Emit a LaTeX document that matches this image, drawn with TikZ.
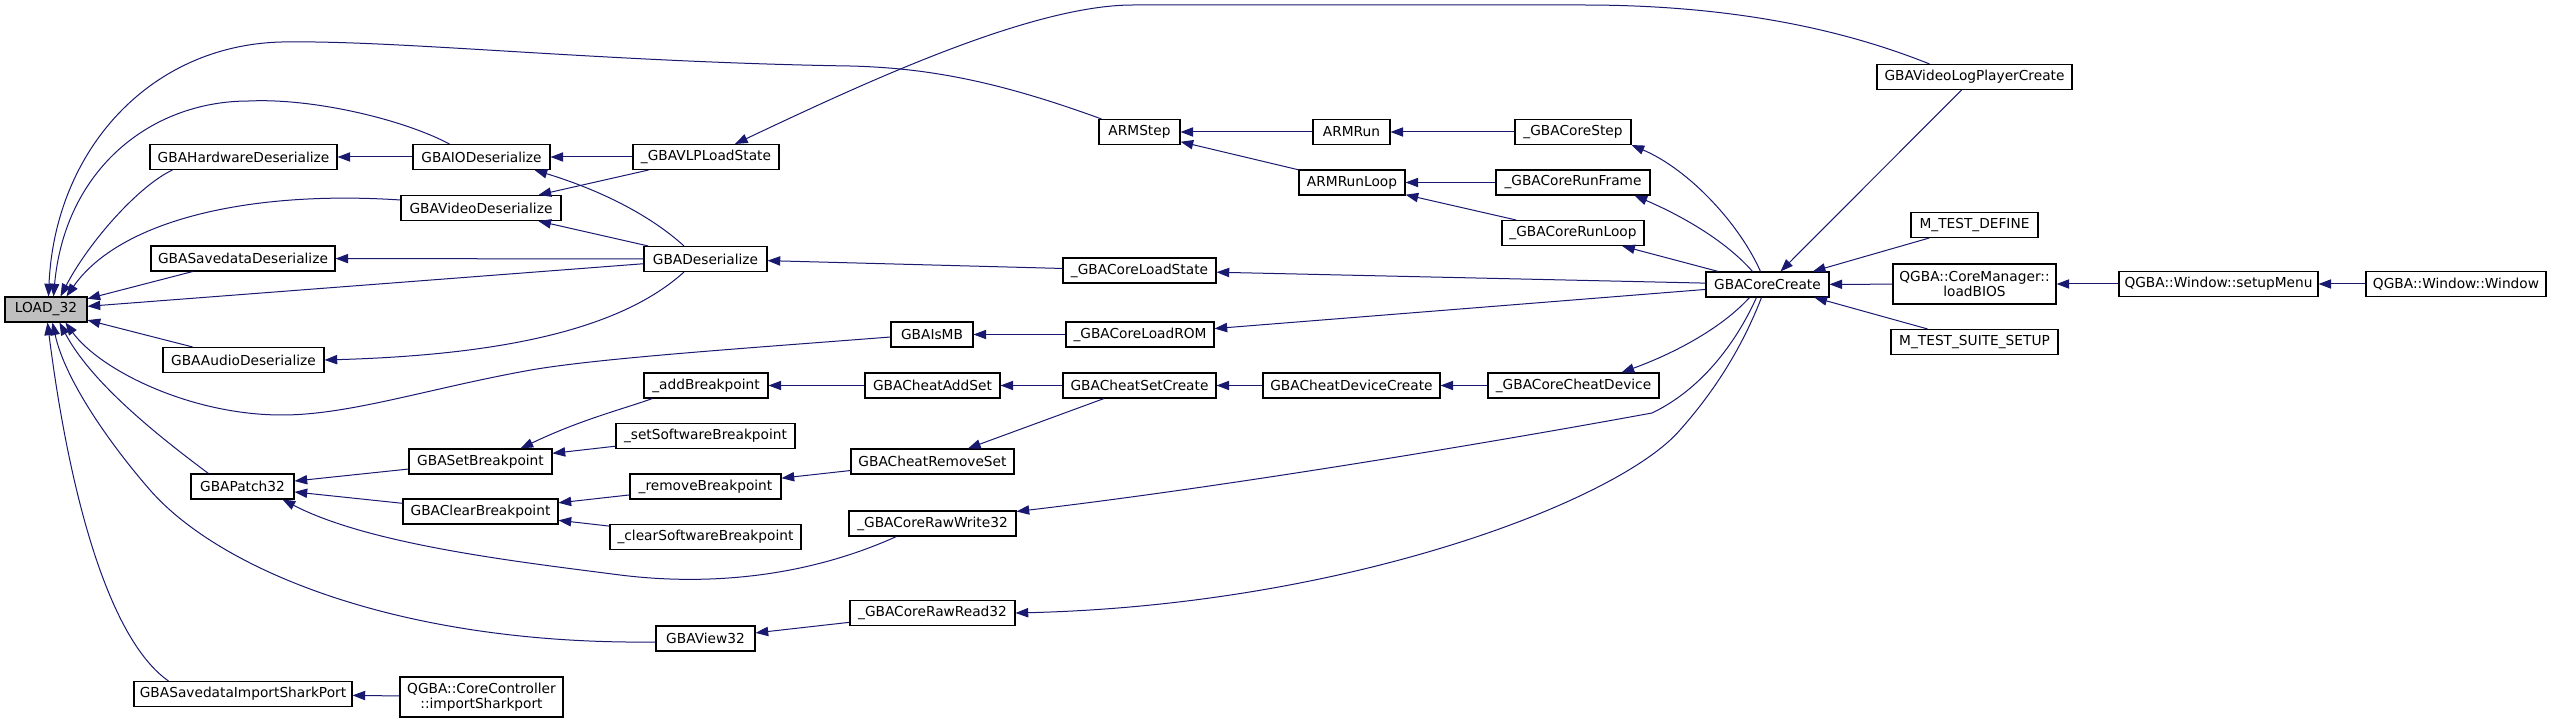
\documentclass[tikz,border=0pt]{standalone}
\usepackage{fontspec}
\setmainfont{DejaVu Sans}
\usetikzlibrary{arrows.meta,calc}
\definecolor{edgeblue}{HTML}{191970}
\definecolor{loadgray}{HTML}{BFBFBF}
\newcommand{\dxfont}{\fontsize{10.3}{11}\selectfont}
\tikzset{
  box/.style={draw=black, line width=0.8pt, fill=white, inner sep=0pt, minimum height=18.75pt, font=\dxfont, text=black, align=center},
  tall/.style={minimum height=30pt},
  bw/.style={minimum width=#1*0.75pt},
  edge/.style={draw=edgeblue, line width=0.75pt, -{Triangle[length=9.5pt,width=7pt]}}
}
\begin{document}
\begin{tikzpicture}[x=0.75pt,y=-0.75pt]
\useasboundingbox[fill=white] (0,0) rectangle (2552,723);
% nodes
\node[box,bw=82,fill=loadgray] (load) at (46,309.5) {LOAD\_32};
\node[box,bw=187] (hw) at (243.5,157) {GBAHardwareDeserialize};
\node[box,bw=137] (io) at (481.5,157) {GBAIODeserialize};
\node[box,bw=146] (vlp) at (706,157) {\_GBAVLPLoadState};
\node[box,bw=160] (vid) at (481,208) {GBAVideoDeserialize};
\node[box,bw=184] (sav) at (243,258.5) {GBASavedataDeserialize};
\node[box,bw=123] (des) at (705.5,259) {GBADeserialize};
\node[box,bw=161] (aud) at (243.5,360) {GBAAudioDeserialize};
\node[box,bw=103] (patch) at (242.5,486.5) {GBAPatch32};
\node[box,bw=218] (shark) at (243,694) {GBASavedataImportSharkPort};
\node[box,tall,bw=163] (isp) at (481.5,697) {QGBA::CoreController\\::importSharkport};
\node[box,bw=143] (setbp) at (480.5,461.5) {GBASetBreakpoint};
\node[box,bw=155] (clrbp) at (480.5,511.5) {GBAClearBreakpoint};
\node[box,bw=124] (addbp) at (706,385.5) {\_addBreakpoint};
\node[box,bw=179] (ssbp) at (705.5,436) {\_setSoftwareBreakpoint};
\node[box,bw=151] (rmbp) at (705.5,486.5) {\_removeBreakpoint};
\node[box,bw=191] (csbp) at (705.5,537) {\_clearSoftwareBreakpoint};
\node[box,bw=99] (view) at (705.5,638.5) {GBAView32};
\node[box,bw=82] (ismb) at (932,334.5) {GBAIsMB};
\node[box,bw=135] (addset) at (932.5,385.5) {GBACheatAddSet};
\node[box,bw=163] (rmset) at (932.5,461.5) {GBACheatRemoveSet};
\node[box,bw=167] (rw) at (932.5,523.5) {\_GBACoreRawWrite32};
\node[box,bw=165] (rr) at (932.5,613) {\_GBACoreRawRead32};
\node[box,bw=81] (armstep) at (1139.5,132) {ARMStep};
\node[box,bw=153] (lstate) at (1139.5,270.5) {\_GBACoreLoadState};
\node[box,bw=148] (lrom) at (1140,334.5) {\_GBACoreLoadROM};
\node[box,bw=153] (setcr) at (1139.5,385.5) {GBACheatSetCreate};
\node[box,bw=77] (armrun) at (1351.5,132) {ARMRun};
\node[box,bw=106] (armloop) at (1352,182.5) {ARMRunLoop};
\node[box,bw=177] (devcr) at (1351.5,385.5) {GBACheatDeviceCreate};
\node[box,bw=116] (cstep) at (1573,132) {\_GBACoreStep};
\node[box,bw=154] (cframe) at (1573,182.5) {\_GBACoreRunFrame};
\node[box,bw=142] (cloop) at (1573,233) {\_GBACoreRunLoop};
\node[box,bw=171] (cheatdev) at (1573.5,385.5) {\_GBACoreCheatDevice};
\node[box,bw=123] (create) at (1767.5,284.5) {GBACoreCreate};
\node[box,bw=195] (vlpc) at (1974.5,77) {GBAVideoLogPlayerCreate};
\node[box,bw=127] (mtd) at (1974.5,225) {M\_TEST\_DEFINE};
\node[box,tall,bw=163] (bios) at (1974.5,284) {QGBA::CoreManager::\\loadBIOS};
\node[box,bw=167] (mtss) at (1974.5,342) {M\_TEST\_SUITE\_SETUP};
\node[box,bw=199] (menu) at (2218.5,284) {QGBA::Window::setupMenu};
\node[box,bw=180] (win) at (2456,284) {QGBA::Window::Window};
% edges into LOAD_32
\draw[edge] ($(hw.south west)+(23,0)$) .. controls (140,185) and (90,240) .. ($(load.north west)+(56,0)$);
\draw[edge] ($(io.north west)+(37,0)$) .. controls (400,118) and (310,98) .. (249,101) .. controls (150,101) and (65,170) .. ($(load.north west)+(49,0)$);
\draw[edge] ($(armstep.north west)+(3,0)$) .. controls (1000,82) and (930,68) .. (850,66) .. controls (600,62) and (400,40) .. (282,42) .. controls (150,45) and (55,150) .. ($(load.north west)+(44,0)$);
\draw[edge] ($(vid.west)+(0,-8)$) .. controls (250,190) and (120,220) .. ($(load.north west)+(62,0)$);
\draw[edge] (sav) -- (load);
\draw[edge] (des) -- (load);
\draw[edge] (aud) -- (load);
\draw[edge] ($(ismb.west)+(0,2.5)$) .. controls (750,348) and (600,358) .. (531,370) .. controls (430,388) and (350,415) .. (282,415) .. controls (190,415) and (100,370) .. ($(load.south west)+(61,0)$);
\draw[edge] ($(patch.north west)+(18,0)$) .. controls (150,430) and (90,380) .. ($(load.south west)+(55,0)$);
\draw[edge] ($(view.west)+(0,3.5)$) .. controls (400,645) and (220,570) .. (150,490) .. controls (110,444) and (65,380) .. ($(load.south west)+(48,0)$);
\draw[edge] ($(shark.north west)+(35,0)$) .. controls (110,640) and (70,500) .. ($(load.south west)+(43,0)$);
% second rank
\draw[edge] (io) -- (hw);
\draw[edge] (vlp) -- (io);
\draw[edge] ($(des.north)+(-21.5,0)$) .. controls (650,215) and (600,190) .. ($(io.south east)+(-16,0)$);
\draw[edge] (vlp) -- (vid);
\draw[edge] (des) -- (vid);
\draw[edge] (des) -- (sav);
\draw[edge] ($(des.south)+(-21.5,0)$) .. controls (620,330) and (500,355) .. (aud.east);
\draw[edge] ($(vlpc.north west)+(53,0)$) .. controls (1820,20) and (1700,5) .. (1583,5) -- (1133,5) .. controls (1030,5) and (860,85) .. ($(vlp.north)+(29,0)$);
\draw[edge] (lstate) -- (des);
\draw[edge] (armrun) -- (armstep);
\draw[edge] (armloop) -- (armstep);
\draw[edge] (cstep) -- (armrun);
\draw[edge] (cframe) -- (armloop);
\draw[edge] (cloop) -- (armloop);
% GBACoreCreate
\draw[edge] ($(create.north west)+(55,0)$) .. controls (1740,225) and (1690,170) .. (cstep.south east);
\draw[edge] ($(create.north west)+(47,0)$) .. controls (1725,240) and (1680,215) .. ($(cframe.south east)+(-16,0)$);
\draw[edge] (create) -- (cloop);
\draw[edge] (create) -- (lstate);
\draw[edge] (lrom) -- (ismb);
\draw[edge] (create) -- (lrom);
\draw[edge] (vlpc) -- (create);
\draw[edge] (mtd) -- (create);
\draw[edge] (bios) -- (create);
\draw[edge] (mtss) -- (create);
\draw[edge] (menu) -- (bios);
\draw[edge] (win) -- (menu);
\draw[edge] ($(create.south west)+(44,0)$) .. controls (1720,330) and (1670,355) .. ($(cheatdev.north east)+(-38,0)$);
\draw[edge] ($(create.south west)+(51,0)$) .. controls (1735,345) and (1700,390) .. (1652,413) .. controls (1450,450) and (1200,490) .. ($(rw.north east)+(0,1)$);
\draw[edge] ($(create.south west)+(56,0)$) .. controls (1745,340) and (1720,385) .. (1680,430) .. controls (1620,500) and (1350,605) .. (rr.east);
% cheats and breakpoints
\draw[edge] (cheatdev) -- (devcr);
\draw[edge] (devcr) -- (setcr);
\draw[edge] (setcr) -- (addset);
\draw[edge] (setcr) -- (rmset);
\draw[edge] (addset) -- (addbp);
\draw[edge] (rmset) -- (rmbp);
\draw[edge] ($(addbp.south west)+(9,0)$) .. controls (620,410) and (580,420) .. ($(setbp.north)+(40,0)$);
\draw[edge] (ssbp) -- (setbp);
\draw[edge] (rmbp) -- (clrbp);
\draw[edge] (csbp) -- (clrbp);
\draw[edge] (setbp) -- (patch);
\draw[edge] (clrbp) -- (patch);
\draw[edge] ($(rw.south west)+(48,0)$) .. controls (800,580) and (700,585) .. (620,575) .. controls (520,562) and (370,545) .. ($(patch.south east)+(-12,0)$);
\draw[edge] (rr) -- (view);
\draw[edge] (isp) -- (shark);
\end{tikzpicture}
\end{document}
